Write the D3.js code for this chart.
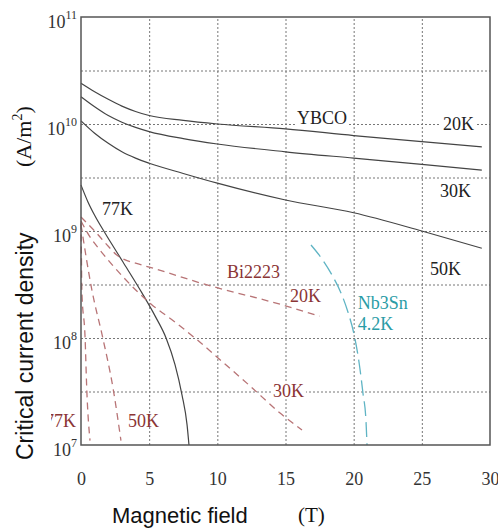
<!DOCTYPE html>
<html>
  <body style="margin:0;background:#fff">
    <style>
      .serif { font-family: 'Liberation Serif', 'DejaVu Serif', serif; }
      .sans { font-family: 'Liberation Sans', Arial, sans-serif; }
    </style>
    <div id="chart"></div>
    <script src="https://cdn.jsdelivr.net/npm/d3@7"></script>
    <script>
      // [field T, Jc A/m2]
      const ybco20 = [[0, 2.4e10], [1, 2.0e10], [2, 1.7e10], [3, 1.47e10], [4, 1.31e10], [5, 1.2e10], [7.5, 1.08e10], [10, 1.0e10], [15, 9.0e9], [20, 7.8e9], [25, 6.85e9], [29.4, 6.1e9]];
      const ybco30 = [[0, 1.8e10], [1, 1.45e10], [2, 1.2e10], [3, 1.04e10], [4, 9.3e9], [5, 8.5e9], [7.5, 7.3e9], [10, 6.5e9], [15, 5.5e9], [20, 4.8e9], [25, 4.2e9], [29.4, 3.7e9]];
      const ybco50 = [[0, 1.07e10], [1, 8.2e9], [2, 6.6e9], [3, 5.5e9], [4, 4.8e9], [5, 4.3e9], [7.5, 3.45e9], [10, 2.8e9], [15, 1.95e9], [20, 1.48e9], [25, 1.0e9], [29.4, 6.9e8]];
      const ybco77 = [[0, 2.69e9], [0.51, 1.87e9], [1.03, 1.38e9], [1.76, 9.57e8], [3.08, 5.13e8], [4.47, 2.64e8], [5.43, 1.61e8], [6.24, 1.0e8], [6.9, 5.6e7], [7.41, 2.93e7], [7.78, 1.54e7], [7.92, 1.0e7]];
      const bi20 = [[0, 1.35e9], [1, 1.0e9], [2, 7.2e8], [2.6, 6.0e8], [3.2, 5.4e8], [4, 5.0e8], [5, 4.6e8], [9, 3.2e8], [15, 2.0e8], [17.5, 1.6e8]];
      const bi30 = [[0, 1.24e9], [0.66, 8.8e8], [1.39, 6.64e8], [3.23, 3.56e8], [5.13, 2.08e8], [6.9, 1.41e8], [8.44, 9.8e7], [10.56, 5.71e7], [12.4, 3.56e7], [14.6, 1.99e7], [16.21, 1.38e7]];
      const bi50 = [[0, 1.15e9], [0.8, 2.8e8], [1.6, 1.0e8], [2.35, 3.4e7], [2.93, 1.1e7]];
      const bi77 = [[0, 1.2e9], [0.03, 6e8], [0.06, 2.8e8], [0.3, 1.0e8], [0.42, 3.4e7], [0.66, 1.1e7]];
      const nb3sn = [[16.87, 7.4e8], [17.68, 5.47e8], [18.41, 3.88e8], [19.07, 2.64e8], [19.58, 1.75e8], [20.05, 1.05e8], [20.39, 5.97e7], [20.68, 3.06e7], [20.9, 1.71e7], [20.98, 1.0e7]];

      const xTicks = [0, 5, 10, 15, 20, 25, 30];
      const yDecades = [1e7, 1e8, 1e9, 1e10, 1e11];
      const yGrid = [3.162e7, 1e8, 3.162e8, 1e9, 3.162e9, 1e10, 3.162e10];

      // curve labels: [text, field, Jc, group]
      const labels = [
        ['YBCO', 15.84, 1.0e10, 'ybco'],
        ['20K', 26.55, 8.8e9, 'ybco'],
        ['30K', 26.33, 2.08e9, 'ybco'],
        ['50K', 25.6, 3.9e8, 'ybco'],
        ['77K', 1.54, 1.41e9, 'ybco'],
        ['Bi2223', 10.7, 3.64e8, 'bi'],
        ['20K', 15.33, 2.17e8, 'bi'],
        ['30K', 14.08, 2.8e7, 'bi'],
        ['50K', 3.45, 1.47e7, 'bi'],
        ['77K', -2.64, 1.47e7, 'bi'],
        ['Nb3Sn', 20.3, 1.87e8, 'nb'],
        ['4.2K', 20.3, 1.19e8, 'nb'],
      ];

      const W = 498, H = 529;
      const margin = { top: 17, right: 8, bottom: 84, left: 81 };
      const iw = W - margin.left - margin.right;
      const ih = H - margin.top - margin.bottom;

      const x = d3.scaleLinear().domain([0, 30]).range([0, iw]);
      const y = d3.scaleLog().domain([1e7, 1e11]).range([ih, 0]);

      const svg = d3.select('#chart').append('svg').attr('width', W).attr('height', H);
      const g = svg.append('g').attr('transform', `translate(${margin.left},${margin.top})`);

      // dotted grid
      const gx = g.append('g').attr('transform', `translate(0,${ih})`)
        .call(d3.axisBottom(x).tickValues(xTicks.slice(1, -1)).tickSize(-ih).tickFormat(''));
      const gy = g.append('g')
        .call(d3.axisLeft(y).tickValues(yGrid).tickSize(-iw).tickFormat(''));
      [gx, gy].forEach((a) => {
        a.select('.domain').remove();
        a.selectAll('line').attr('stroke', '#777').attr('stroke-dasharray', '2,2');
      });

      // tick labels
      const ax = g.append('g').attr('transform', `translate(0,${ih})`)
        .call(d3.axisBottom(x).tickValues(xTicks).tickSize(0).tickPadding(27));
      ax.select('.domain').remove();
      ax.selectAll('text').attr('class', 'serif').attr('font-size', 18).attr('fill', '#333');

      const ay = g.append('g')
        .call(d3.axisLeft(y).tickValues(yDecades).tickSize(0).tickPadding(4).tickFormat(''));
      ay.select('.domain').remove();
      ay.selectAll('text')
        .attr('class', 'serif').attr('fill', '#333').attr('dy', 10)
        .each(function (d) {
          const t = d3.select(this);
          t.append('tspan').attr('font-size', 18).text('10');
          t.append('tspan').attr('font-size', 12).attr('dy', -9).text(Math.round(Math.log10(d)));
        });

      const line = d3.line().x((d) => x(d[0])).y((d) => y(d[1])).curve(d3.curveMonotoneX);

      [ybco20, ybco30, ybco50, ybco77].forEach((s) => {
        g.append('path').datum(s).attr('d', line)
          .attr('fill', 'none').attr('stroke', '#444').attr('stroke-width', 1.2);
      });
      [bi20, bi30, bi50, bi77].forEach((s) => {
        g.append('path').datum(s).attr('d', line)
          .attr('fill', 'none').attr('stroke', '#b87476').attr('stroke-width', 1.3)
          .attr('stroke-dasharray', '7,5');
      });
      g.append('path').datum(nb3sn).attr('d', line)
        .attr('fill', 'none').attr('stroke', '#5fb4c4').attr('stroke-width', 1.3)
        .attr('stroke-dasharray', '15,6');

      // frame
      g.append('rect').attr('width', iw).attr('height', ih)
        .attr('fill', 'none').attr('stroke', '#555').attr('stroke-width', 1.5);

      // curve labels
      const colors = { ybco: '#222', bi: '#8b3535', nb: '#2a9ca6' };
      const needBg = ['YBCO', '20Kybco', '30Kybco', '30Kbi'];
      svg.append('clipPath').attr('id', 'clipL')
        .append('rect').attr('x', 51).attr('y', 0).attr('width', W).attr('height', H);
      labels.forEach(([t, fx, fy, grp]) => {
        const lg = g.append('g');
        const txt = lg.append('text').attr('class', 'serif')
          .attr('x', x(fx)).attr('y', y(fy))
          .attr('font-size', 18).attr('fill', colors[grp]).text(t);
        if (needBg.includes(t === 'YBCO' ? t : t + grp)) {
          const b = txt.node().getBBox();
          lg.insert('rect', 'text').attr('x', b.x - 2).attr('y', b.y + 2)
            .attr('width', b.width + 4).attr('height', b.height - 4).attr('fill', '#fff');
        }
        if (fx < 0) {
          lg.attr('clip-path', 'url(#clipL)').attr('transform', `translate(${-margin.left},${-margin.top})`);
          txt.attr('x', x(fx) + margin.left).attr('y', y(fy) + margin.top);
        }
      });

      // axis titles
      svg.append('text').attr('class', 'sans').attr('font-size', 22).attr('fill', '#111')
        .attr('x', 112).attr('y', 523).text('Magnetic field');
      svg.append('text').attr('class', 'serif').attr('font-size', 21).attr('fill', '#111')
        .attr('x', 298).attr('y', 522).text('(T)');

      svg.append('text').attr('class', 'sans').attr('font-size', 23).attr('fill', '#111')
        .attr('transform', 'translate(33,460) rotate(-90)').text('Critical current density');
      const unit = svg.append('text').attr('class', 'serif').attr('font-size', 22).attr('fill', '#111')
        .attr('transform', 'translate(31,167) rotate(-90)');
      unit.append('tspan').text('(A/m');
      unit.append('tspan').attr('font-size', 14).attr('dy', -9).text('2');
      unit.append('tspan').attr('dy', 9).text(')');
    </script>
  </body>
</html>
